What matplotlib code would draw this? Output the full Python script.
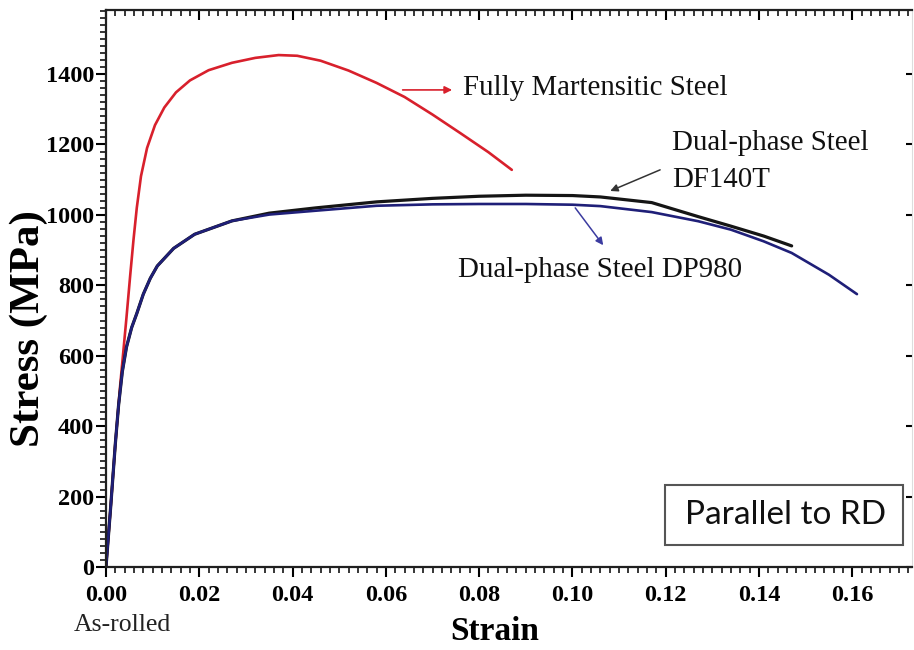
import matplotlib
matplotlib.use("Agg")
import matplotlib.pyplot as plt
from matplotlib.patches import Rectangle
from matplotlib.ticker import MultipleLocator, FixedLocator

# ---- data ----
fm_strain = [0, 0.001, 0.002, 0.003, 0.0037, 0.0044, 0.0052, 0.0059, 0.0066, 0.0075,
             0.0088, 0.0105, 0.0125, 0.015, 0.018, 0.022, 0.027, 0.032, 0.037, 0.041,
             0.046, 0.052, 0.058, 0.064, 0.070, 0.076, 0.082, 0.087]
fm_stress = [0, 170, 350, 510, 610, 710, 830, 930, 1020, 1110,
             1190, 1255, 1305, 1348, 1382, 1411, 1432, 1446, 1454, 1452,
             1438, 1410, 1375, 1335, 1285, 1232, 1178, 1128]

df_strain = [0, 0.001, 0.002, 0.0027, 0.0035, 0.0044, 0.0055, 0.0066, 0.008, 0.0095,
             0.011, 0.0145, 0.019, 0.027, 0.035, 0.045, 0.058, 0.070, 0.080, 0.090,
             0.100, 0.106, 0.117, 0.127, 0.134, 0.141, 0.147]
df_stress = [0, 170, 350, 460, 555, 625, 680, 720, 775, 820,
             855, 905, 945, 983, 1005, 1020, 1037, 1047, 1053, 1056,
             1055, 1051, 1035, 995, 968, 940, 912]

dp_strain = [0, 0.001, 0.002, 0.0027, 0.0035, 0.0044, 0.0055, 0.0066, 0.008, 0.0095,
             0.011, 0.0145, 0.019, 0.027, 0.035, 0.045, 0.058, 0.070, 0.080, 0.090,
             0.100, 0.106, 0.117, 0.127, 0.134, 0.141, 0.147, 0.155, 0.161]
dp_stress = [0, 170, 350, 460, 555, 625, 680, 720, 775, 820,
             855, 905, 945, 983, 1001, 1012, 1026, 1030, 1031, 1031,
             1029, 1025, 1008, 982, 958, 925, 892, 830, 775]

x_ticks = [0.00, 0.02, 0.04, 0.06, 0.08, 0.10, 0.12, 0.14, 0.16]
x_ticklabels = ["0.00", "0.02", "0.04", "0.06", "0.08", "0.10", "0.12", "0.14", "0.16"]
y_ticks = [0, 200, 400, 600, 800, 1000, 1200, 1400]
y_ticklabels = ["0", "200", "400", "600", "800", "1000", "1200", "1400"]

label_fm = "Fully Martensitic Steel"
label_df_1 = "Dual-phase Steel"
label_df_2 = "DF140T"
label_dp = "Dual-phase Steel DP980"
box_text = "Parallel to RD"
x_title = "Strain"
y_title = "Stress (MPa)"
note = "As-rolled"

RED = "#d8202c"
BLACK = "#151515"
BLUE = "#1f1f78"
SERIF = "Liberation Serif"

W, H = 914, 650
fig = plt.figure(figsize=(W / 100, H / 100), dpi=100)
ax = fig.add_axes([106/W, 1 - 567/H, (912-106)/W, (567-10)/H])

ax.plot(fm_strain, fm_stress, color=RED, lw=1.9, solid_capstyle="round")
ax.plot(df_strain, df_stress, color=BLACK, lw=2.3, solid_capstyle="round")
ax.plot(dp_strain, dp_stress, color=BLUE, lw=1.9, solid_capstyle="round")

ax.set_xlim(0, 0.1728)
ax.set_ylim(0, 1582)

ax.xaxis.set_major_locator(FixedLocator(x_ticks))
ax.set_xticklabels(x_ticklabels)
ax.yaxis.set_major_locator(FixedLocator(y_ticks))
ax.set_yticklabels(y_ticklabels)
ax.xaxis.set_minor_locator(MultipleLocator(0.002))
ax.yaxis.set_minor_locator(MultipleLocator(20))

for lab in ax.get_xticklabels() + ax.get_yticklabels():
    lab.set_fontfamily(SERIF)
    lab.set_fontweight("bold")
    lab.set_fontsize(17.5)

ax.tick_params(axis="x", which="major", direction="out", length=7, width=1.5, pad=6,
               top=True, labeltop=False)
ax.tick_params(axis="x", which="minor", direction="out", length=4, width=1.1, top=True)
ax.tick_params(axis="y", which="major", direction="out", length=7, width=1.5, pad=1.5,
               right=True, labelright=False)
ax.tick_params(axis="y", which="minor", direction="out", length=4, width=1.1, right=False)
# top ticks point inward, right ticks point inward
for t in ax.xaxis.get_major_ticks():
    t.tick2line.set_marker(3)
    t.tick2line.set_markersize(7)
for t in ax.xaxis.get_minor_ticks():
    t.tick2line.set_marker(3)
    t.tick2line.set_markersize(4)
for t in ax.yaxis.get_major_ticks():
    t.tick2line.set_marker(0)
    t.tick2line.set_markersize(4)

for side in ["left", "bottom", "top"]:
    ax.spines[side].set_linewidth(1.6)
    ax.spines[side].set_color("#202020")
ax.spines["right"].set_color("#dddddd")
ax.spines["right"].set_linewidth(0.8)

fig.text(29/W, 1 - 329/H, y_title, fontfamily=SERIF, fontweight="bold", fontsize=31,
         rotation=90, ha="center", va="center")
fig.text(495/W, 1 - 632/H, x_title, fontfamily=SERIF, fontweight="bold", fontsize=24,
         ha="center", va="center")
fig.text(122/W, 1 - 625/H, note, fontfamily=SERIF, fontsize=18.5,
         ha="center", va="center", color="#222222")

# annotations
ax.annotate("", xy=(0.0742, 1355), xytext=(0.0636, 1355),
            arrowprops=dict(arrowstyle="-|>", color=RED, lw=1.2, mutation_scale=11,
                            shrinkA=0, shrinkB=0))
ax.text(0.0765, 1360, label_fm, fontfamily=SERIF, fontsize=20.8, ha="left", va="center",
        color="#111111")

ax.annotate("", xy=(0.1081, 1068), xytext=(0.1188, 1128),
            arrowprops=dict(arrowstyle="-|>", color="#333333", lw=1.1, mutation_scale=11,
                            shrinkA=0, shrinkB=0))
ax.text(0.1214, 1204, label_df_1, fontfamily=SERIF, fontsize=20.8, ha="left", va="center",
        color="#111111")
ax.text(0.1214, 1099, label_df_2, fontfamily=SERIF, fontsize=20.8, ha="left", va="center",
        color="#111111")

ax.annotate("", xy=(0.1066, 914), xytext=(0.1006, 1020),
            arrowprops=dict(arrowstyle="-|>", color="#3b3ba0", lw=1.1, mutation_scale=11,
                            shrinkA=0, shrinkB=0))
ax.text(0.0755, 843, label_dp, fontfamily=SERIF, fontsize=20.8, ha="left", va="center",
        color="#111111")

ax.add_patch(Rectangle((0.6935, 0.0395), 0.9888 - 0.6935, 0.1472 - 0.0395,
                       transform=ax.transAxes, fill=False, edgecolor="#555555", lw=1.5))
ax.text(0.8437, 0.0934, box_text, transform=ax.transAxes, fontfamily="Lato",
        fontsize=24, ha="center", va="center", color="#111111")

fig.savefig("out.png", dpi=100)
